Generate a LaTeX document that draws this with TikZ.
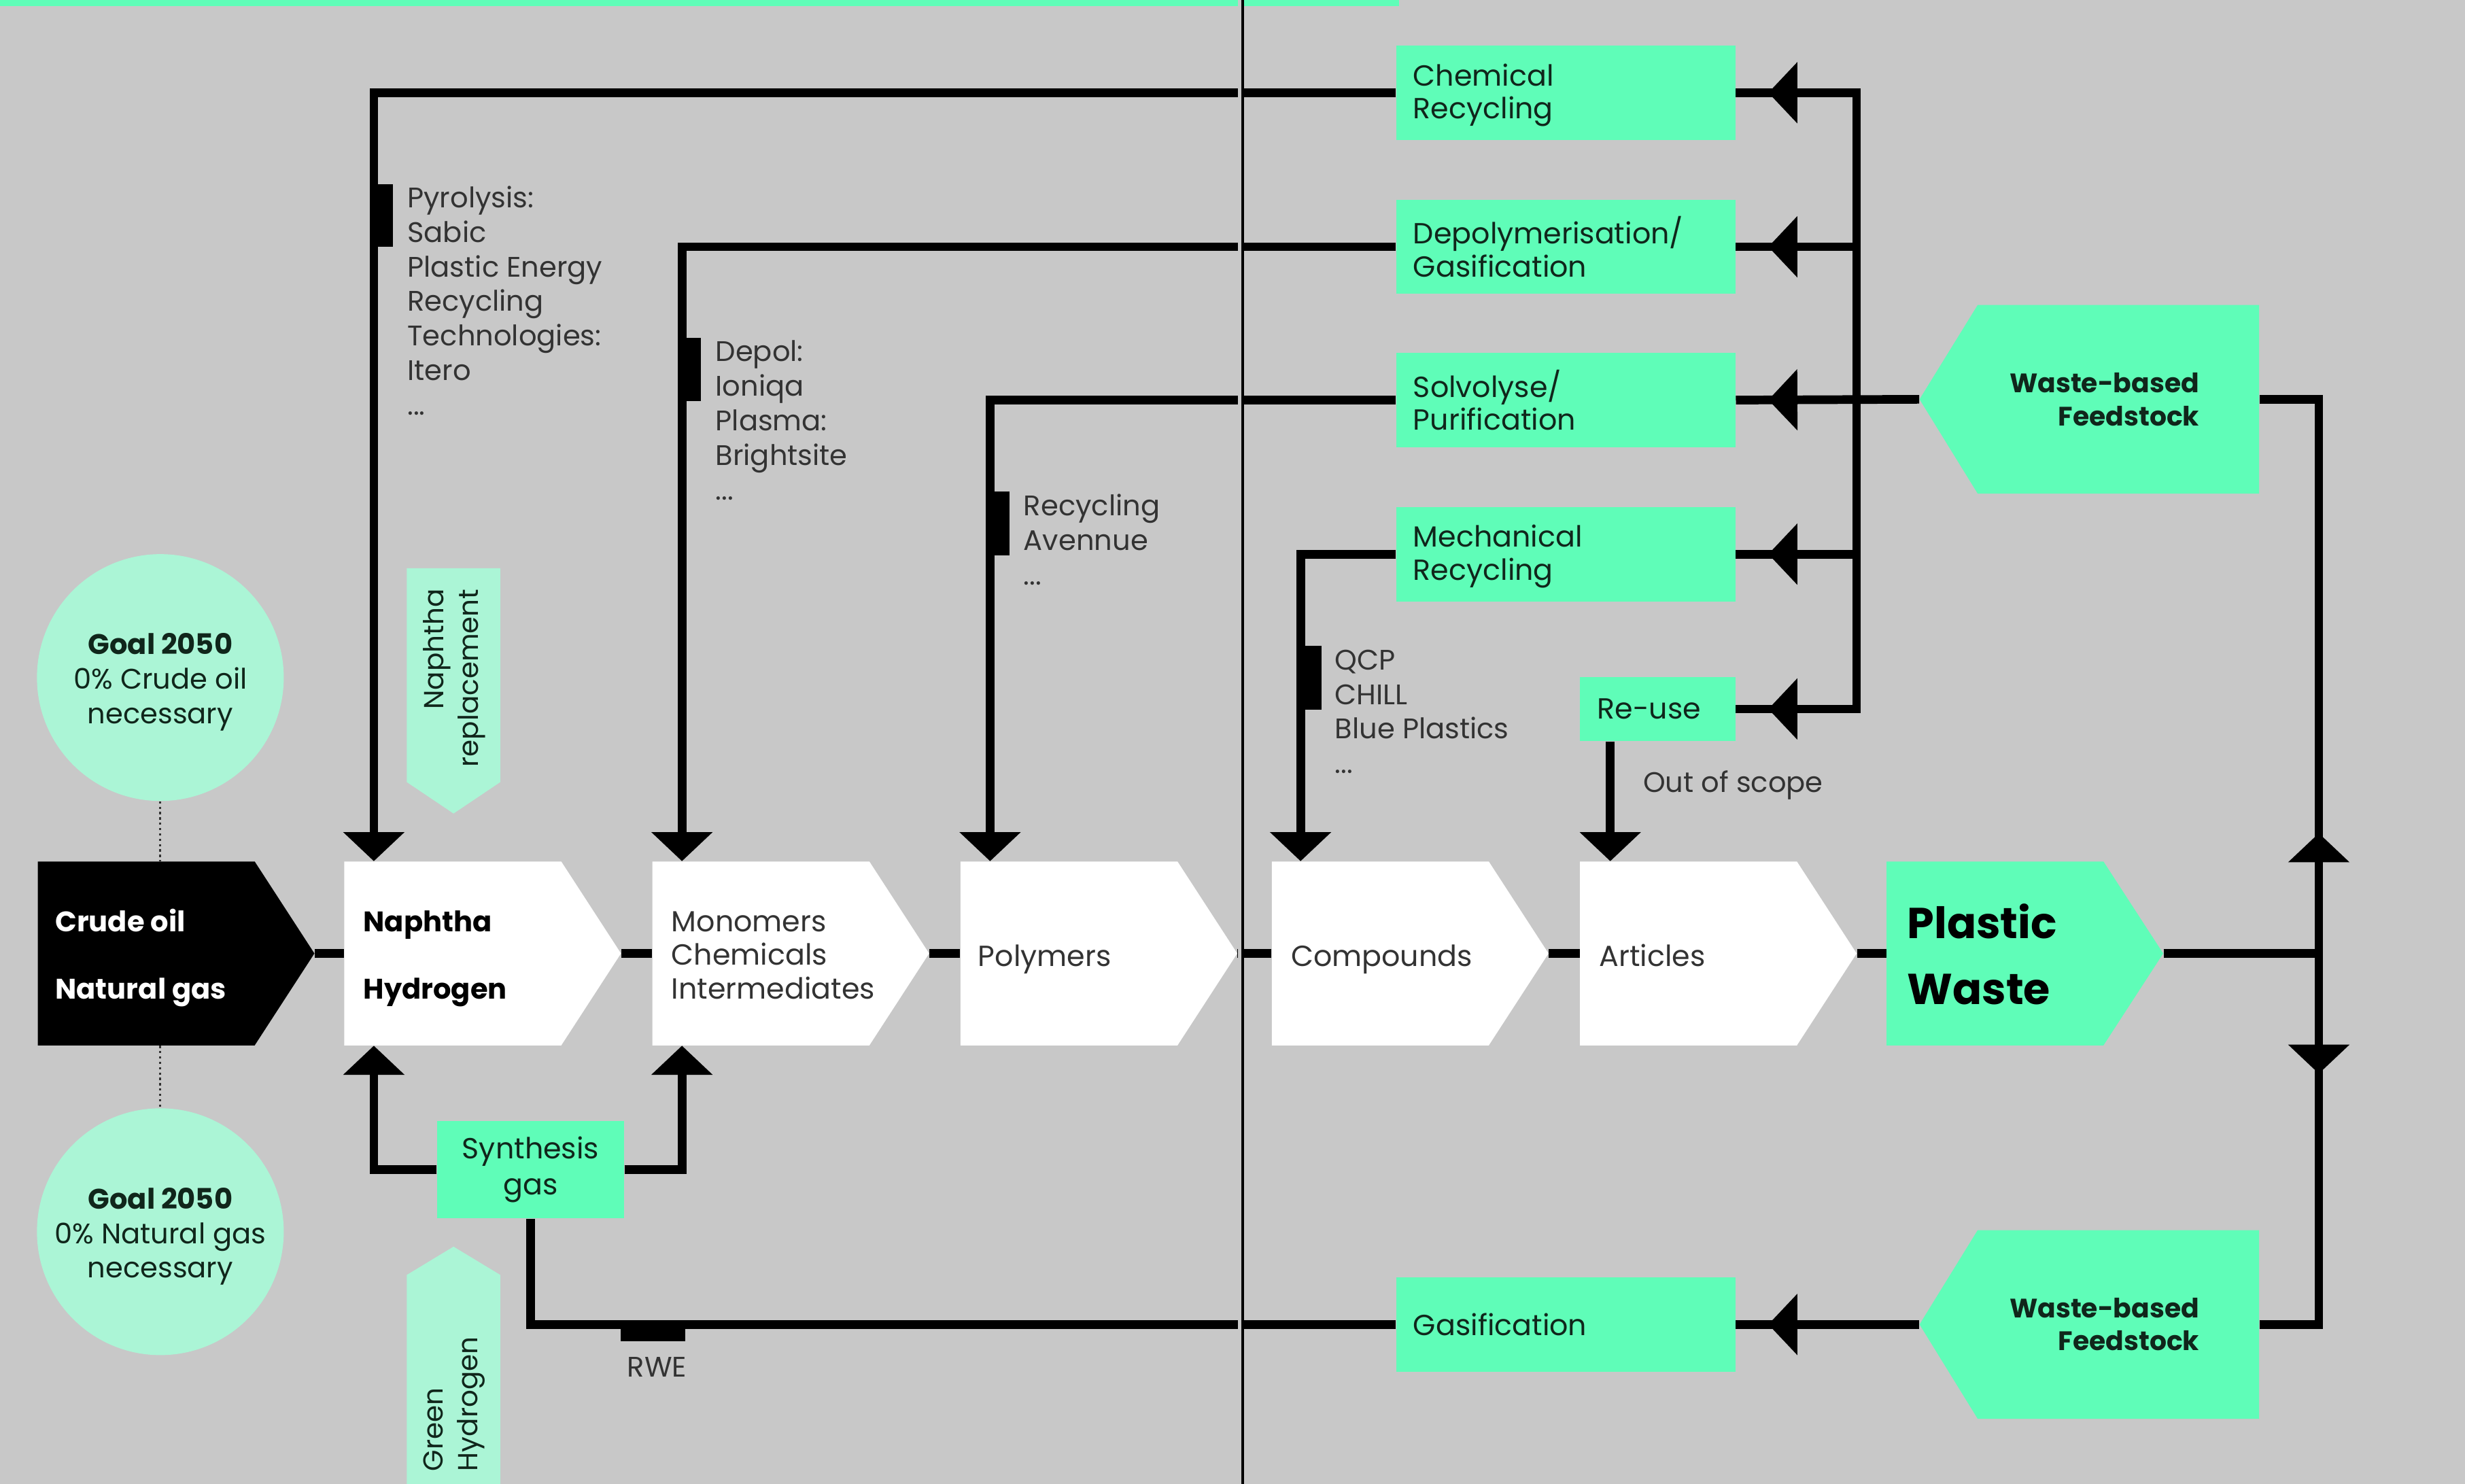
\documentclass[tikz,border=0pt]{standalone}
\usepackage{fontspec}
\setmainfont{Poppins}
\usetikzlibrary{arrows.meta,calc,decorations.markings}
\definecolor{bgc}{HTML}{C8C8C8}
\definecolor{mint}{HTML}{5FFDB8}
\definecolor{lmint}{HTML}{ABF5D6}
\definecolor{dtext}{HTML}{10261B}
\definecolor{gtext}{HTML}{333333}
\begin{document}
\begin{tikzpicture}[x=1pt,y=-1pt, line join=miter,
 every node/.style={font=\fontsize{18.5}{21}\selectfont, inner sep=0pt},
 flow/.style={line width=5.5pt, draw=black},
 arrowend/.style={-{Triangle[length=18.5pt,width=38pt]}},
 midtip/.style={postaction={decorate,decoration={markings,mark=at position #1 with {\arrow{Triangle[length=18.5pt,width=38pt]}}}}},
 chev/.style={rectangle, fill=bgc, minimum width=176pt, minimum height=117pt,
   path picture={\fill[#1] (path picture bounding box.north west) -- ([xshift=-38pt]path picture bounding box.north east) -- (path picture bounding box.east) -- ([xshift=-38pt]path picture bounding box.south east) -- (path picture bounding box.south west) -- cycle;}},
 ctext/.style={anchor=base west, align=left},
 fsbox/.style={rectangle, fill=bgc, minimum width=216pt, minimum height=120pt, inner xsep=38pt, text width=140pt, align=right, text=dtext,
   font=\bfseries\fontsize{17}{21}\selectfont,
   path picture={\fill[mint] ([xshift=37pt]path picture bounding box.north west) -- (path picture bounding box.north east) -- (path picture bounding box.south east) -- ([xshift=37pt]path picture bounding box.south west) -- (path picture bounding box.west) -- cycle;}},
 gbox/.style={rectangle, fill=mint, minimum width=216pt, minimum height=60pt, inner xsep=11pt, text width=194pt, align=left, text=dtext},
 goal/.style={circle, fill=lmint, minimum size=157pt, align=center, text=dtext, font=\fontsize{18}{22}\selectfont},
 lbl/.style={align=left, text=gtext, font=\fontsize{18}{22}\selectfont},
 rot/.style={rotate=90, text=dtext, font=\fontsize{17.5}{22}\selectfont}
]
\useasboundingbox (0,0) rectangle (1568,944);
\fill[bgc] (0,0) rectangle (1568,944);
\fill[mint] (0,0) rectangle (890,4);

% main chain
\node[chev=black] (crude) at (112,606.5) {};
\node[chev=white] (naph) at (307,606.5) {};
\node[chev=white] (mono) at (503,606.5) {};
\node[chev=white] (poly) at (699,606.5) {};
\node[chev=white] (comp) at (897,606.5) {};
\node[chev=white] (arti) at (1093,606.5) {};
\node[chev=mint] (pw) at (1288,606.5) {};
\node[ctext, text=white, font=\bfseries\fontsize{18}{43}\selectfont] (crudetxt) at (35,635.5) {Crude oil\\Natural gas};
\node[ctext, text=black, font=\bfseries\fontsize{18}{43}\selectfont] (naphtxt) at (231,635.5) {Naphtha\\Hydrogen};
\node[ctext, text=gtext, font=\fontsize{18.5}{21.5}\selectfont] (monotxt) at (427,635.5) {Monomers\\Chemicals\\Intermediates};
\node[ctext, text=gtext] (polytxt) at (622,614.5) {Polymers};
\node[ctext, text=gtext] (comptxt) at (821,614.5) {Compounds};
\node[ctext, text=gtext] (artitxt) at (1017,614.5) {Articles};
\node[ctext, text=black, font=\bfseries\fontsize{27.5}{42}\selectfont] (pwtxt) at (1213,639) {Plastic\\Waste};

% goals
\node[goal] (g1) at (102,431) {\rule{0pt}{19.5pt}\textbf{Goal 2050}\\0\% Crude oil\\necessary};
\node[goal] (g2) at (102,783.5) {\rule{0pt}{19.5pt}\textbf{Goal 2050}\\0\% Natural gas\\necessary};

% recycling boxes
\node[gbox] (chem) at (996,59) {\rule{0pt}{17pt}Chemical\\Recycling};
\node[gbox] (depol) at (996,157) {Depolymerisation/\\Gasification};
\node[gbox] (solv) at (996,254.5) {Solvolyse/\\Purification};
\node[gbox] (mech) at (996,352.5) {\rule{0pt}{17pt}Mechanical\\Recycling};
\node[gbox, minimum width=99pt, minimum height=41pt, text width=77pt] (reuse) at (1054.5,451) {Re-use};
\node[gbox] (gasi) at (996,842.5) {Gasification};
\node[gbox, minimum width=119pt, minimum height=62pt, text width=110pt, inner xsep=4.5pt, align=center, font=\fontsize{18.5}{23}\selectfont] (syn) at (337.5,744) {Synthesis\\gas};

% feedstock
\node[fsbox] (fs1) at (1329,254) {Waste-based\\Feedstock};
\node[fsbox] (fs2) at (1329,842.5) {Waste-based\\Feedstock};

% naphtha replacement / green hydrogen
\node[rectangle, fill=bgc, minimum width=59.5pt, minimum height=156pt,
  path picture={\fill[lmint] (path picture bounding box.north west) -- (path picture bounding box.north east) -- ([yshift=20pt]path picture bounding box.south east) -- (path picture bounding box.south) -- ([yshift=20pt]path picture bounding box.south west) -- cycle;}] (nrep) at (288.5,439.5) {};
\node[rot, anchor=east, align=right] (nreptxt) at (289,374.5) {Naphtha\\replacement};
\node[rectangle, fill=bgc, minimum width=59.5pt, minimum height=157pt,
  path picture={\fill[lmint] (path picture bounding box.north) -- ([yshift=-18pt]path picture bounding box.north east) -- (path picture bounding box.south east) -- (path picture bounding box.south west) -- ([yshift=-18pt]path picture bounding box.north west) -- cycle;}] (ghyd) at (288.5,871.5) {};
\node[rot, anchor=west, align=left] (ghydtxt) at (289,936) {Green\\Hydrogen};

% labels (base = last line)
\node[lbl, anchor=base west] (tpyro) at (259,264) {Pyrolysis:\\Sabic\\Plastic Energy\\Recycling\\Technologies:\\Itero\\...};
\node[lbl, anchor=base west] (tdepol) at (455,318) {Depol:\\Ioniqa\\Plasma:\\Brightsite\\...};
\node[lbl, anchor=base west] (trec) at (651,372) {Recycling\\Avennue\\...};
\node[lbl, anchor=base west] (tqcp) at (849,492) {QCP\\CHILL\\Blue Plastics\\...};
\node[lbl, anchor=base west] (tscope) at (1045,504) {Out of scope};
\node[lbl, anchor=base] (trwe) at (418,876) {RWE};

% chain connectors
\draw[flow] (crude.east) -- (naph.west);
\draw[flow] (naph.east) -- (mono.west);
\draw[flow] (mono.east) -- (poly.west);
\draw[flow] (poly.east) -- (comp.west);
\draw[flow] (comp.east) -- (arti.west);
\draw[flow] (arti.east) -- (pw.west);

% dotted links
\draw[dotted, line width=1.4pt, gtext] (g1.south) -- (g1.south |- crude.north);
\draw[dotted, line width=1.4pt, gtext] (g2.north |- crude.south) -- (g2.north);

% feedback lines to top
\draw[flow, arrowend] (chem.west) -| ([xshift=19pt]naph.north west);
\draw[flow, arrowend] (depol.west) -| ([xshift=19pt]mono.north west);
\draw[flow, arrowend] (solv.west) -| ([xshift=19pt]poly.north west);
\draw[flow, arrowend] (mech.west) -| ([xshift=18.5pt]comp.north west);
\draw[flow, arrowend] ([xshift=19.5pt]reuse.south west) -- ([xshift=19.5pt]arti.north west);

% synthesis gas
\draw[flow, arrowend] (syn.west) -| ([xshift=19pt]naph.south west);
\draw[flow, arrowend] (syn.east) -| ([xshift=19pt]mono.south west);
\draw[flow] (gasi.west) -| (syn.south);

% right collector
\coordinate (vx) at (1181,0);
\draw[flow, line cap=rect] (chem.east -| vx) -- (reuse.east -| vx);
\draw[flow, midtip=-20.6pt] (chem.east -| vx) -- (chem.east);
\draw[flow, midtip=-20.6pt] (depol.east -| vx) -- (depol.east);
\draw[flow, midtip=-20.6pt] (mech.east -| vx) -- (mech.east);
\draw[flow, midtip=-20.6pt] (reuse.east -| vx) -- (reuse.east);
\draw[flow, midtip=-20.6pt] (fs1.west) -- (solv.east);
\draw[flow, midtip=-20.6pt] (fs2.west) -- (gasi.east);

\coordinate (vj) at (1475,606.5);
\draw[flow] (pw.east) -- (vj);
\draw[flow, midtip=76.5pt] (vj) -- (vj |- fs1.east) -- (fs1.east);
\draw[flow, midtip=76.5pt] (vj) -- (vj |- fs2.east) -- (fs2.east);

% markers
\fill (235.25,117) rectangle (250,157);
\fill (431.25,215) rectangle (446,255);
\fill (627.25,312.5) rectangle (642,353.5);
\fill (825.75,411) rectangle (840.5,451.5);
\fill (395,842) rectangle (436,853);

% divider
\fill[bgc] (787.6,0) rectangle (789.6,944);
\draw[line width=1.6pt, black] (790.4,0) -- (790.4,944);
\end{tikzpicture}
\end{document}
